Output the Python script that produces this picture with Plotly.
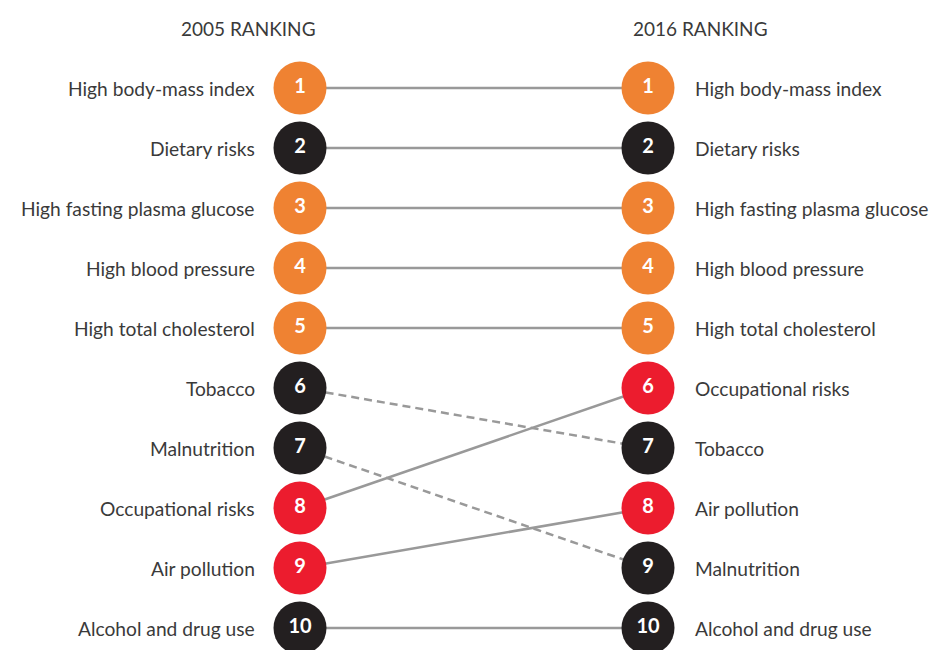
import plotly.graph_objects as go

risks = ["High body-mass index", "Dietary risks", "High fasting plasma glucose",
         "High blood pressure", "High total cholesterol", "Tobacco", "Malnutrition",
         "Occupational risks", "Air pollution", "Alcohol and drug use"]
rank_2005 = [1, 2, 3, 4, 5, 6, 7, 8, 9, 10]
rank_2016 = [1, 2, 3, 4, 5, 7, 9, 6, 8, 10]
group = ["metabolic", "behavioural", "metabolic", "metabolic", "metabolic",
         "behavioural", "behavioural", "environmental", "environmental", "behavioural"]
headers = ["2005 RANKING", "2016 RANKING"]

colors = {"metabolic": "#EF8232", "behavioural": "#231F20", "environmental": "#EC1C2E"}
FONT = "Lato"
TXT = "#3A3A3A"
LABEL_SIZE = 19.2

fig = go.Figure()

for name, r0, r1 in zip(risks, rank_2005, rank_2016):
    dash = "8px,5px" if r1 > r0 else "solid"
    fig.add_trace(go.Scatter(x=[0, 1], y=[r0, r1], mode="lines",
                             line=dict(color="#999999", width=2.5, dash=dash),
                             hoverinfo="skip", showlegend=False))

for xi, ranks in [(0, rank_2005), (1, rank_2016)]:
    fig.add_trace(go.Scatter(
        x=[xi] * len(ranks), y=ranks, mode="markers+text",
        marker=dict(size=53, color=[colors[g] for g in group], line=dict(width=0)),
        text=[f"<b>{r}</b>" for r in ranks], textposition="middle center",
        textfont=dict(family=FONT, size=20, color="white"),
        showlegend=False, hoverinfo="skip"))

annotations = []
for name, r0, r1 in zip(risks, rank_2005, rank_2016):
    annotations.append(dict(x=0, y=r0, text=name, showarrow=False, xanchor="right",
                            xshift=-43, font=dict(family=FONT, size=LABEL_SIZE, color=TXT)))
    annotations.append(dict(x=1, y=r1, text=name, showarrow=False, xanchor="left",
                            xshift=45, font=dict(family=FONT, size=LABEL_SIZE, color=TXT)))
annotations.append(dict(x=0, y=0, text=headers[0], showarrow=False, xanchor="center",
                        xshift=-52, font=dict(family=FONT, size=19, color=TXT)))
annotations.append(dict(x=1, y=0, text=headers[1], showarrow=False, xanchor="center",
                        xshift=52, font=dict(family=FONT, size=19, color=TXT)))

fig.update_layout(
    width=940, height=650, margin=dict(l=0, r=0, t=0, b=0),
    paper_bgcolor="white", plot_bgcolor="white",
    xaxis=dict(range=[-292 / 348, 648 / 348], visible=False, fixedrange=True),
    yaxis=dict(range=[1 + 570 / 60, 1 - 80 / 60], visible=False, fixedrange=True),
    annotations=annotations,
)
fig.write_html("out.html")
